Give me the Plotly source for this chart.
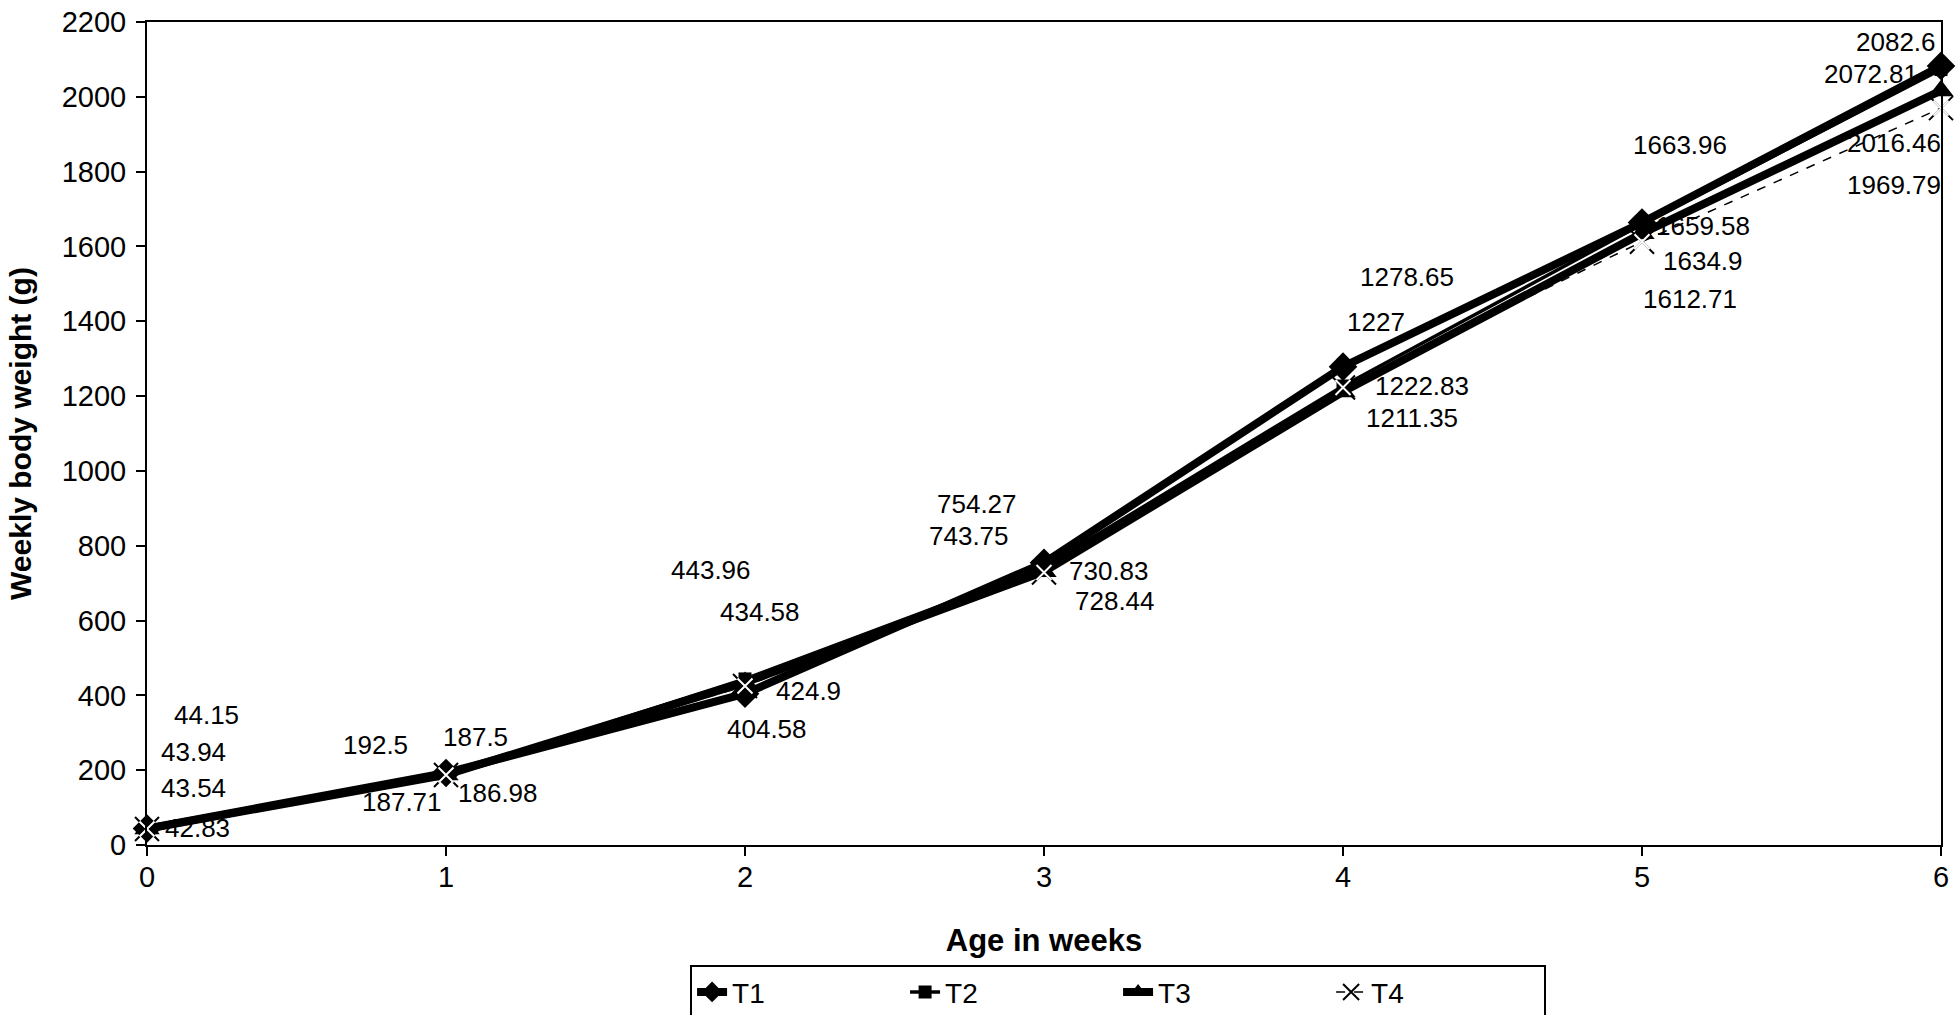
import plotly.graph_objects as go

# ---------------- data ----------------
weeks = [0, 1, 2, 3, 4, 5, 6]
series_names = ["T1", "T2", "T3", "T4"]
t1 = [44.15, 192.5, 404.58, 754.27, 1278.65, 1663.96, 2082.6]
t2 = [43.94, 187.5, 443.96, 743.75, 1227, 1659.58, 2072.81]
t3 = [43.54, 187.71, 434.58, 730.83, 1211.35, 1634.9, 2016.46]
t4 = [42.83, 186.98, 424.9, 728.44, 1222.83, 1612.71, 1969.79]
x_ticks = [0, 1, 2, 3, 4, 5, 6]
y_ticks = [0, 200, 400, 600, 800, 1000, 1200, 1400, 1600, 1800, 2000, 2200]

# label offsets in screen pixels (dx right, dy down) per series, per week
label_offsets = {
    "T1": [(59, -113), (-71, -28), (22, 35), (-67, -59), (64, -90), (38, -78), (-45, -24)],
    "T2": [(46, -77), (29, -38), (-34, -109), (-75, -31), (33, -64), (61, 2), (-70, 4)],
    "T3": [(46, -41), (-44, 27), (15, -70), (65, -1), (69, 26), (61, 28), (-47, 52)],
    "T4": [(50, -1), (52, 18), (63, 5), (71, 28), (79, -2), (48, 57), (-47, 77)],
}

FONT = "Liberation Sans, Arial, sans-serif"
values = {"T1": t1, "T2": t2, "T3": t3, "T4": t4}

fig = go.Figure()

# T4 drawn first (thin dashed with X)
fig.add_trace(go.Scatter(
    x=weeks, y=t4, name="T4", mode="lines+markers",
    line=dict(color="black", width=1.5, dash="dash"),
    marker=dict(symbol="x-thin-open", size=24, color="black", line=dict(color="black", width=2)),
    cliponaxis=False, legendrank=4))
fig.add_trace(go.Scatter(
    x=weeks, y=t2, name="T2", mode="lines+markers",
    line=dict(color="black", width=3.5),
    marker=dict(symbol="square", size=13, color="black"),
    cliponaxis=False, legendrank=2))
fig.add_trace(go.Scatter(
    x=weeks, y=t3, name="T3", mode="lines+markers",
    line=dict(color="black", width=8),
    marker=dict(symbol="triangle-up", size=22, color="black"),
    cliponaxis=False, legendrank=3))
fig.add_trace(go.Scatter(
    x=weeks, y=t1, name="T1", mode="lines+markers",
    line=dict(color="black", width=8),
    marker=dict(symbol="diamond", size=22, color="black"),
    cliponaxis=False, legendrank=1))
# white centre of the X markers (visible over the dark lines)
fig.add_trace(go.Scatter(
    x=weeks, y=t4, name="T4", mode="markers", showlegend=False,
    marker=dict(symbol="x-thin-open", size=15, color="white", line=dict(color="white", width=2)),
    cliponaxis=False, hoverinfo="skip"))

annotations = []
for name in series_names:
    for w, v, (dx, dy) in zip(weeks, values[name], label_offsets[name]):
        annotations.append(dict(
            x=w, y=v, xref="x", yref="y", text=f"{v:g}", showarrow=False,
            xshift=dx, yshift=-dy, xanchor="center", yanchor="middle",
            font=dict(family=FONT, size=26, color="black")))

fig.update_layout(
    width=1956, height=1015,
    margin=dict(l=147, r=15, t=22, b=170, autoexpand=False),
    paper_bgcolor="white", plot_bgcolor="white",
    font=dict(family=FONT, color="black"),
    showlegend=True,
    legend=dict(
        orientation="h", xref="container", x=0.3528, xanchor="left",
        yref="container", y=0.049, yanchor="top",
        bordercolor="black", borderwidth=2, bgcolor="white",
        font=dict(family=FONT, size=28, color="black"),
        entrywidth=168, entrywidthmode="pixels",
        traceorder="normal", itemsizing="trace"),
    annotations=annotations,
)

fig.update_xaxes(
    range=[0, 6], tickvals=x_ticks, ticktext=[str(t) for t in x_ticks],
    showgrid=False, zeroline=False, automargin=False,
    showline=True, linecolor="black", linewidth=2, mirror=True,
    ticks="outside", ticklen=9, tickwidth=2, tickcolor="black",
    ticklabelstandoff=-4,
    tickfont=dict(family=FONT, size=29, color="black"),
    title=dict(text="<b>Age in weeks</b>", font=dict(family=FONT, size=31, color="black"), standoff=38),
)
fig.update_yaxes(
    range=[0, 2200], tickvals=y_ticks, ticktext=[str(t) for t in y_ticks],
    showgrid=False, zeroline=False, automargin=False,
    showline=True, linecolor="black", linewidth=2, mirror=True,
    ticks="outside", ticklen=9, tickwidth=2, tickcolor="black",
    ticklabelstandoff=4,
    tickfont=dict(family=FONT, size=29, color="black"),
    title=dict(text="<b>Weekly body weight (g)</b>", font=dict(family=FONT, size=30, color="black"), standoff=21),
)

fig.write_html("out.html")
